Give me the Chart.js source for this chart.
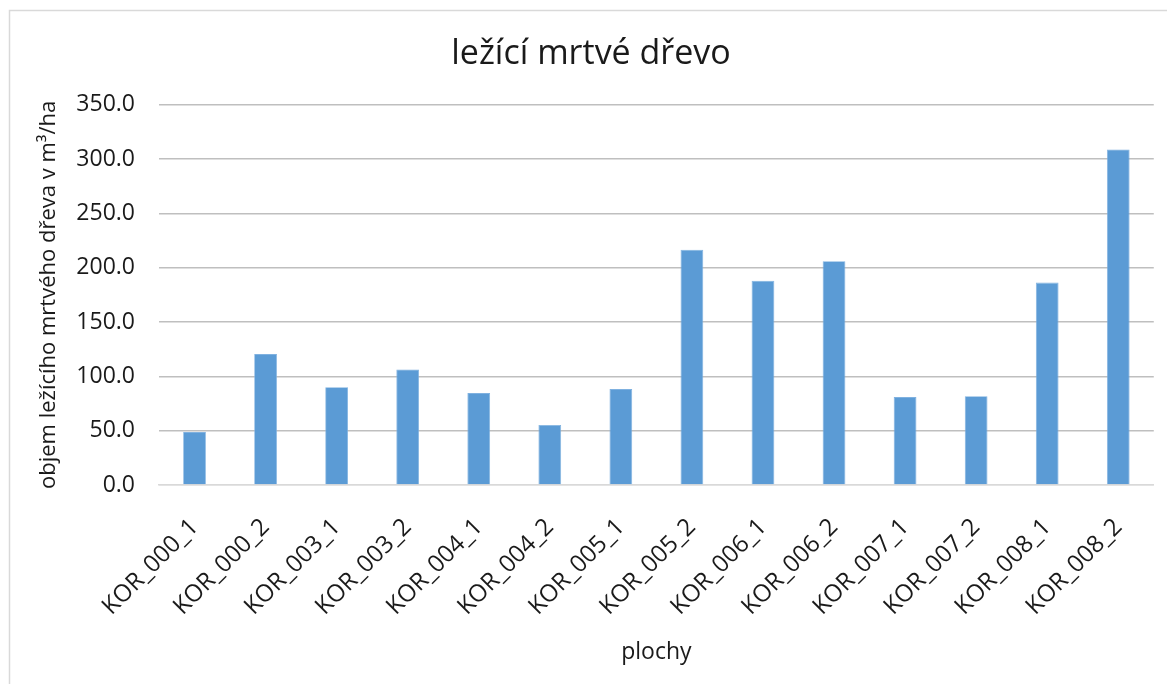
<!DOCTYPE html>
<html lang="cs">
<head>
<meta charset="utf-8">
<title>ležící mrtvé dřevo</title>
<script src="https://cdn.jsdelivr.net/npm/chart.js@4/dist/chart.umd.min.js"></script>
<style>
  html, body { margin: 0; padding: 0; background: #ffffff; overflow: hidden; }
  #wrap { position: relative; width: 1167px; height: 684px; }
  canvas { display: block; }
</style>
</head>
<body>
<div id="wrap"><canvas id="c" width="1167" height="684"></canvas></div>
<script>
// Plots (sample areas) and lying dead wood volume per hectare
const plochy = ['KOR_000_1', 'KOR_000_2', 'KOR_003_1', 'KOR_003_2', 'KOR_004_1', 'KOR_004_2', 'KOR_005_1',
                'KOR_005_2', 'KOR_006_1', 'KOR_006_2', 'KOR_007_1', 'KOR_007_2', 'KOR_008_1', 'KOR_008_2'];
const objem = [48.7, 120.5, 90.1, 106.3, 84.6, 55.2, 88.3, 216.6, 188.1, 206.0, 80.9, 81.8, 186.3, 308.9];
const yTicks = [0, 50, 100, 150, 200, 250, 300, 350];

const FONT = '"Open Sans", "Noto Sans", sans-serif';
const TEXT = '#1a1a1a';

// light frame around the whole chart
const frame = {
  id: 'frame',
  beforeDraw(chart) {
    const ctx = chart.ctx;
    ctx.save();
    ctx.fillStyle = '#ffffff';
    ctx.fillRect(0, 0, chart.width, chart.height);
    ctx.strokeStyle = '#d9d9d9';
    ctx.lineWidth = 1.5;
    ctx.strokeRect(9.5, 10.5, chart.width + 20, chart.height + 20);
    ctx.restore();
  }
};

new Chart(document.getElementById('c'), {
  type: 'bar',
  data: {
    labels: plochy,
    datasets: [{
      data: objem,
      backgroundColor: '#5b9bd5',
      borderColor: '#7fb1e0',
      borderWidth: 0.8,
      categoryPercentage: 1,
      barPercentage: 0.32
    }]
  },
  options: {
    responsive: false,
    animation: false,
    devicePixelRatio: 1,
    layout: { padding: { left: 26, right: 11, top: 10, bottom: 12 } },
    plugins: {
      legend: { display: false },
      tooltip: { enabled: false },
      title: {
        display: true,
        text: 'ležící mrtvé dřevo',
        color: TEXT,
        font: { family: FONT, size: 34, weight: 'normal' },
        padding: { top: 24, bottom: 30 }
      }
    },
    scales: {
      x: {
        grid: { display: false, drawTicks: false },
        border: { display: true, color: '#d9d9d9', width: 1.5 },
        ticks: {
          color: TEXT,
          font: { family: FONT, size: 24 },
          minRotation: 45,
          maxRotation: 45,
          padding: 28,
          autoSkip: false
        },
        title: {
          display: true,
          text: 'plochy',
          color: TEXT,
          font: { family: FONT, size: 23 },
          padding: { top: 0, bottom: 6 }
        },
        afterFit(scale) { scale.height = 187; }
      },
      y: {
        min: yTicks[0],
        max: yTicks[yTicks.length - 1],
        afterBuildTicks(scale) { scale.ticks = yTicks.map(v => ({ value: v })); },
        grid: {
          drawTicks: false,
          color: ctx => (ctx.tick && ctx.tick.value === 0) ? '#d9d9d9' : '#bfbfbf',
          lineWidth: 1.4
        },
        border: { display: false },
        ticks: {
          color: TEXT,
          font: { family: FONT, size: 23 },
          padding: 24,
          callback: v => Number(v).toFixed(1)
        },
        title: {
          display: true,
          text: 'objem ležícího mrtvého dřeva v m³/ha',
          color: TEXT,
          font: { family: FONT, size: 22 },
          padding: { top: 10, bottom: 0 }
        },
        afterFit(scale) { scale.width = 133; }
      }
    }
  },
  plugins: [frame]
});
</script>
</body>
</html>
